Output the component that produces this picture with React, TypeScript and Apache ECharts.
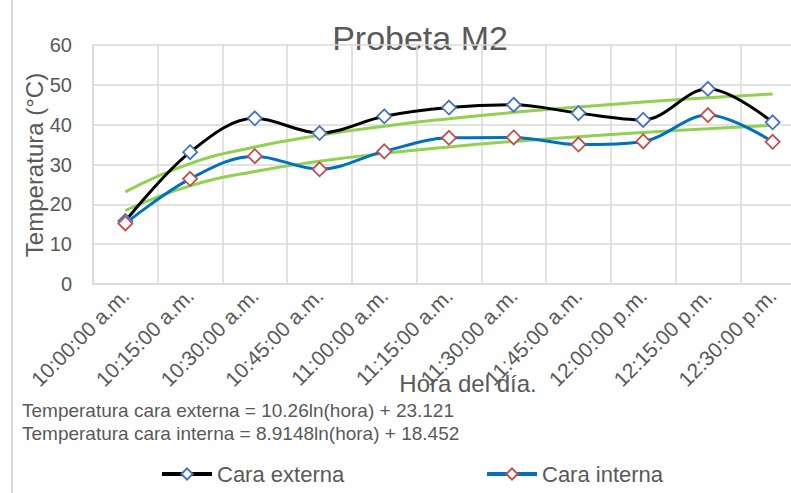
import React, { useEffect, useRef } from "react";
import * as echarts from "echarts";

const categories = [
  "10:00:00 a.m.", "10:15:00 a.m.", "10:30:00 a.m.", "10:45:00 a.m.",
  "11:00:00 a.m.", "11:15:00 a.m.", "11:30:00 a.m.", "11:45:00 a.m.",
  "12:00:00 p.m.", "12:15:00 p.m.", "12:30:00 p.m.",
];
const caraExterna = [15.8, 33.1, 41.6, 37.9, 42.1, 44.3, 45.0, 42.9, 41.2, 49.0, 40.6];
const caraInterna = [15.2, 26.4, 32.1, 28.8, 33.3, 36.7, 36.8, 35.0, 35.8, 42.4, 35.7];
const trendExterna = [23.12, 30.23, 34.39, 37.34, 39.63, 41.50, 43.09, 44.46, 45.66, 46.75, 47.72];
const trendInterna = [18.45, 24.63, 28.25, 30.81, 32.80, 34.42, 35.80, 36.99, 38.04, 38.98, 39.83];
const yTicks = { min: 0, max: 60, interval: 10 };
const eqExterna = "Temperatura cara externa = 10.26ln(hora) + 23.121";
const eqInterna = "Temperatura cara interna = 8.9148ln(hora) + 18.452";

const FONT = "'Liberation Sans Narrow', 'Liberation Sans', sans-serif";
const TXT = "#595959";

export default function App() {
  const ref = useRef<HTMLDivElement>(null);
  useEffect(() => {
    if (!ref.current) return;
    const chart = echarts.init(ref.current, undefined, { renderer: "svg" });
    chart.setOption({
      animation: false,
      backgroundColor: "#ffffff",
      textStyle: { fontFamily: FONT, color: TXT },
      grid: { left: 93, top: 45, height: 239, width: 712, containLabel: false },
      xAxis: {
        type: "category",
        data: categories,
        boundaryGap: true,
        axisLine: { show: true, lineStyle: { color: "#d9d9d9", width: 1.5 } },
        axisTick: { show: false },
        splitLine: { show: true, lineStyle: { color: "#d9d9d9", width: 1.5 } },
        axisLabel: { rotate: 45, fontSize: 21, color: TXT, fontFamily: FONT, margin: 8, interval: 0 },
      },
      yAxis: {
        type: "value",
        min: yTicks.min,
        max: yTicks.max,
        interval: yTicks.interval,
        axisLine: { show: true, lineStyle: { color: "#d9d9d9", width: 1.5 } },
        axisTick: { show: false },
        splitLine: { show: true, lineStyle: { color: "#d9d9d9", width: 1.5 } },
        axisLabel: { fontSize: 20, color: TXT, fontFamily: FONT, margin: 21 },
      },
      legend: [
        {
          data: ["Cara externa"], left: 160, top: 463, itemWidth: 50, itemHeight: 14, itemGap: 5, padding: 0,
          lineStyle: { width: 4 },
          textStyle: { fontSize: 22, color: TXT, fontFamily: FONT },
        },
        {
          data: ["Cara interna"], left: 485, top: 463, itemWidth: 50, itemHeight: 14, itemGap: 5, padding: 0,
          lineStyle: { width: 4 },
          textStyle: { fontSize: 22, color: TXT, fontFamily: FONT },
        },
      ],
      series: [
        {
          name: "Tendencia externa", type: "line", data: trendExterna, smooth: true,
          symbol: "none", lineStyle: { color: "#92D050", width: 3 }, z: 1,
        },
        {
          name: "Tendencia interna", type: "line", data: trendInterna, smooth: true,
          symbol: "none", lineStyle: { color: "#92D050", width: 3 }, z: 1,
        },
        {
          name: "Cara externa", type: "line", data: caraExterna, smooth: 0.35,
          symbol: "diamond", symbolSize: 14,
          lineStyle: { color: "#000000", width: 3 },
          itemStyle: { color: "#ffffff", borderColor: "#4472C4", borderWidth: 1.8 },
          z: 3,
        },
        {
          name: "Cara interna", type: "line", data: caraInterna, smooth: 0.35,
          symbol: "diamond", symbolSize: 14,
          lineStyle: { color: "#0070C0", width: 3 },
          itemStyle: { color: "#ffffff", borderColor: "#C0504D", borderWidth: 1.8 },
          z: 3,
        },
      ],
      graphic: [
        { type: "line", shape: { x1: 12, y1: 0, x2: 12, y2: 493 }, style: { stroke: "#d9d9d9", lineWidth: 2 } },
        {
          type: "text", x: 420, y: 38,
          style: { text: "Probeta M2", fontSize: 34, fill: TXT, fontFamily: FONT, textAlign: "center", textVerticalAlign: "middle" },
        },
        {
          type: "text", x: 34, y: 165, rotation: Math.PI / 2,
          style: { text: "Temperatura (°C)", fontSize: 24, fill: TXT, fontFamily: FONT, textAlign: "center", textVerticalAlign: "middle" },
        },
        {
          type: "text", x: 468, y: 383, z: 10,
          style: { text: "Hora del día.", fontSize: 24, fill: TXT, fontFamily: FONT, textAlign: "center", textVerticalAlign: "middle" },
        },
        {
          type: "text", x: 22, y: 410,
          style: { text: eqExterna, fontSize: 19, fill: TXT, fontFamily: FONT, textAlign: "left", textVerticalAlign: "middle" },
        },
        {
          type: "text", x: 22, y: 433,
          style: { text: eqInterna, fontSize: 19, fill: TXT, fontFamily: FONT, textAlign: "left", textVerticalAlign: "middle" },
        },
      ],
    });
    return () => chart.dispose();
  }, []);
  return (
    <div style={{ position: "fixed", left: 0, top: 0, width: 791, height: 493, overflow: "hidden" }}>
      <div ref={ref} style={{ width: 830, height: 493 }} />
    </div>
  );
}
